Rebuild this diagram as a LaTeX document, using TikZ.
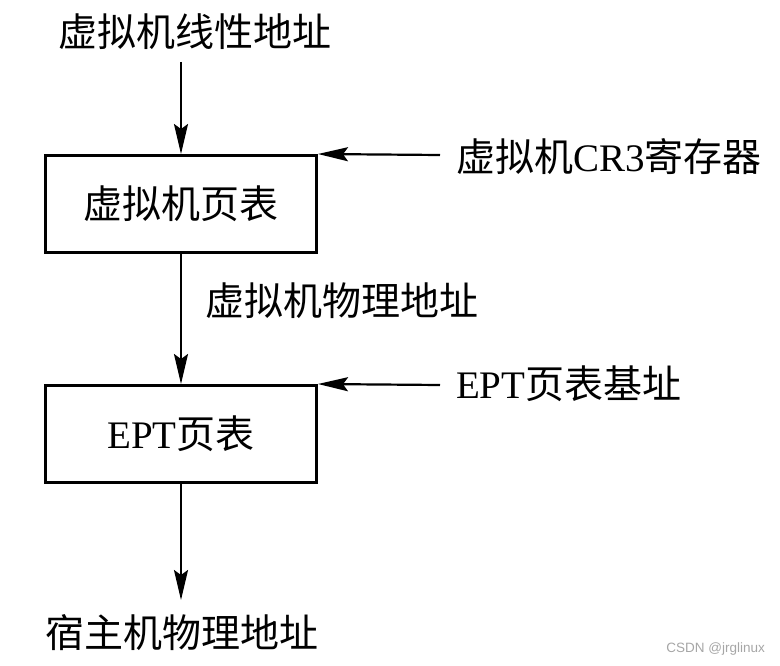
\documentclass[tikz,border=0pt]{standalone}
\usepackage{fontspec}
\setmainfont{Liberation Serif}
\setsansfont{Liberation Sans}
\newfontfamily\cjk{Noto Sans CJK SC}
\usepackage{tikz}
\usetikzlibrary{arrows.meta, positioning}
\tikzset{>={Stealth[length=30pt,width=14pt,inset=5pt]}}

\newcommand{\zh}[1]{{\cjk #1}}

\begin{document}
\begin{tikzpicture}[x=1pt, y=-1pt, line width=2.2pt,
    txt/.style={font=\fontsize{39}{40}\selectfont, inner sep=0pt},
    tbl/.style={draw, line width=3pt, minimum width=271pt, minimum height=97pt, inner sep=0pt, font=\fontsize{39}{40}\selectfont}]
		\useasboundingbox (0,0) rectangle (780,666);

		\node [txt] (vla) at (195,32) {\zh{虚拟机线性地址}};
		\node [tbl] (vpt) at (181,204) {\zh{虚拟机页表}};
		\node [txt, anchor=west] (cr3) at (455,157) {\zh{虚拟机}CR3\zh{寄存器}};
		\node [txt, anchor=west] (gpa) at (204,301) {\zh{虚拟机物理地址}};
		\node [tbl] (ept) at (181,434) {EPT\zh{页表}};
		\node [txt, anchor=west] (eptp) at (455,384) {EPT\zh{页表基址}};
		\node [txt] (hpa) at (182,633) {\zh{宿主机物理地址}};
		\node [font=\sffamily\fontsize{13.5}{14}\selectfont, text=gray!70, anchor=east, inner sep=0pt] (mark) at (766,649) {CSDN @jrglinux};

		\coordinate (a0) at (181,62);
		\coordinate (a1) at (440,155);
		\coordinate (a2) at (440,385);
		\coordinate (a3) at (181,600);

		\draw[->] (a0) to (vpt.north);
		\draw[->] (a1) to (vpt.north east);
		\draw[->] (vpt) to (ept);
		\draw[->] (a2) to (ept.north east);
		\draw[->] (ept) to (a3);
\end{tikzpicture}
\end{document}
